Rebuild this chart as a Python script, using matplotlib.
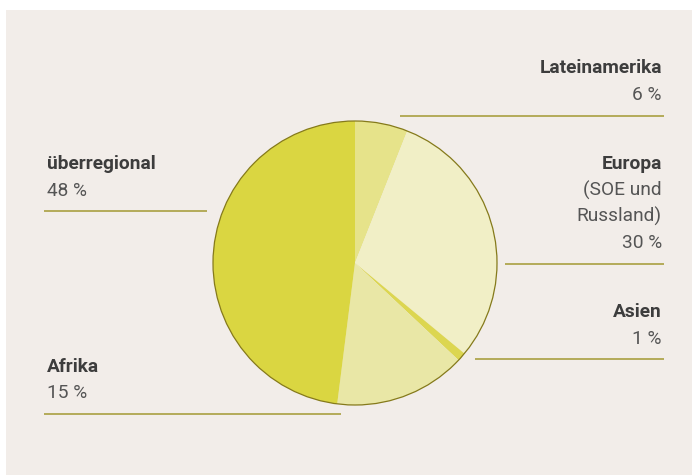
import matplotlib
matplotlib.use("Agg")
import matplotlib.pyplot as plt
from matplotlib.patches import Rectangle, Circle

# Data (clockwise from 12 o'clock)
regions = ["Lateinamerika", "Europa", "Asien", "Afrika", "überregional"]
shares = [6, 30, 1, 15, 48]
colors = ["#e6e38a", "#f1efc6", "#dcd650", "#e9e7a6", "#dad641"]

# Label texts
label_titles = ["Lateinamerika", "Europa", "Asien", "Afrika", "überregional"]
label_extra = ["", "(SOE und\nRussland)", "", "", ""]
label_values = ["6 %", "30 %", "1 %", "15 %", "48 %"]

W, H = 692, 475
fig = plt.figure(figsize=(W / 100, H / 100), dpi=100)
fig.patch.set_facecolor("white")
ax = fig.add_axes([0, 0, 1, 1])

def Y(y):
    return H - y

ax.add_patch(Rectangle((6, 0), W - 6, Y(10), facecolor="#f2ede9", edgecolor="none", zorder=0))

cx, cy, r = 355, 263, 142
wedges, _ = ax.pie(shares, colors=colors, startangle=90, counterclock=False,
                   center=(cx, Y(cy)), radius=r, wedgeprops=dict(linewidth=0, zorder=2),
                   frame=True)
ax.add_patch(Circle((cx, Y(cy)), r, facecolor="none", edgecolor="#857a1b", linewidth=0.9, zorder=3))

ax.set_xlim(0, W)
ax.set_ylim(0, H)
ax.set_axis_off()

fam = ["Roboto", "DejaVu Sans"]
fs = 13.8
tcol = "#3d3d3d"
vcol = "#555555"
lh = 26.5

# Right-side labels: (index, first baseline y, line y, line x0)
right = [(0, 73, 116, 400), (1, 169, 264, 505), (2, 317, 359, 475)]
for i, yb, yl, x0 in right:
    ax.text(662, Y(yb), label_titles[i], ha="right", va="baseline", fontsize=fs,
            fontweight="bold", color=tcol, family=fam)
    lines = []
    if label_extra[i]:
        lines += label_extra[i].split("\n")
    lines.append(label_values[i])
    for k, t in enumerate(lines):
        ax.text(662, Y(yb + lh * (k + 1)), t, ha="right", va="baseline", fontsize=fs,
                color=vcol, family=fam)
    ax.plot([x0, 664], [Y(yl), Y(yl)], color="#a9a040", linewidth=1.2, solid_capstyle="butt")

left = [(4, 169, 211, 207), (3, 372, 414, 341)]
for i, yb, yl, x1 in left:
    ax.text(47, Y(yb), label_titles[i], ha="left", va="baseline", fontsize=fs,
            fontweight="bold", color=tcol, family=fam)
    ax.text(47, Y(yb + lh), label_values[i], ha="left", va="baseline", fontsize=fs,
            color=vcol, family=fam)
    ax.plot([44, x1], [Y(yl), Y(yl)], color="#a9a040", linewidth=1.2, solid_capstyle="butt")

fig.savefig("out.png", dpi=100, facecolor=fig.get_facecolor())
